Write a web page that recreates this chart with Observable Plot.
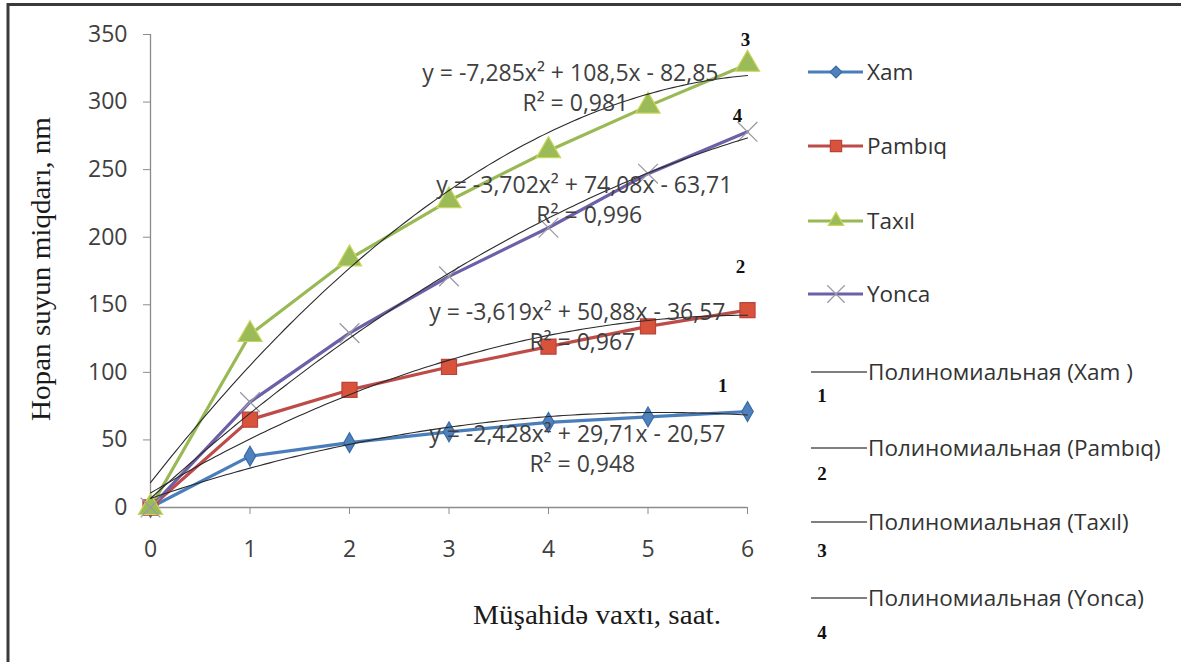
<!DOCTYPE html>
<html>
<head>
<meta charset="utf-8">
<script src="https://cdn.jsdelivr.net/npm/d3@7"></script>
<script src="https://cdn.jsdelivr.net/npm/@observablehq/plot@0.6"></script>
<style>
  html, body { margin: 0; padding: 0; background: #fff; }
  #chart { width: 1181px; height: 662px; }
</style>
</head>
<body>
<div id="chart"></div>
<script>
// ---- data ----
const hours = [0, 1, 2, 3, 4, 5, 6];
const xam    = [0, 38, 48, 56, 63, 67, 71];
const pambiq = [0, 65, 87, 104, 119, 134, 146];
const taxil  = [0, 128, 184, 227, 264, 297, 328];
const yonca  = [0, 78, 129, 171, 207, 247, 278];
const seriesNames = ["Xam", "Pambıq", "Taxıl", "Yonca"];
const seriesValues = [xam, pambiq, taxil, yonca];
// polynomial trendlines (Excel fit, x = point index 1..7)
const fitA = [-2.428, -3.619, -7.285, -3.702];
const fitB = [29.71, 50.88, 108.5, 74.08];
const fitC = [-20.57, -36.57, -82.85, -63.71];
const eqLabels = ["y = -2,428x² + 29,71x - 20,57", "y = -3,619x² + 50,88x - 36,57", "y = -7,285x² + 108,5x - 82,85", "y = -3,702x² + 74,08x - 63,71"];
const r2Labels = ["R² = 0,948", "R² = 0,967", "R² = 0,981", "R² = 0,996"];
const curveNumbers = ["1", "2", "3", "4"];
const trendNames = ["Полиномиальная (Xam )", "Полиномиальная (Pambıq)", "Полиномиальная (Taxıl)", "Полиномиальная (Yonca)"];
const yTicks = [0, 50, 100, 150, 200, 250, 300, 350];
const xTicks = [0, 1, 2, 3, 4, 5, 6];
const xTitle = "Müşahidə vaxtı, saat.";
const yTitle = "Hopan suyun miqdarı, nm";

// ---- styles ----
const lineColors = ["#4A7EBB", "#BE4B48", "#98B954", "#6D60A8"];
const markFill = ["#4F81BD", "#D9533A", "#9BBB59", "none"];
const markStroke = ["#3A6AA5", "#B8433F", "#C9D65A", "#9A9AA6"];
const symbols = ["diamond", "square", "triangle", "times"];
const markR = [6, 8.5, 9, 9];

const rows = [];
seriesNames.forEach((s, i) => hours.forEach((h, j) => rows.push({series: s, i, x: h, y: seriesValues[i][j]})));

const trend = [];
seriesNames.forEach((s, i) => {
  for (let k = 0; k <= 120; k++) {
    const t = k / 20;          // chart position 0..6
    const xi = t + 1;          // Excel index
    trend.push({series: s, x: t, y: fitA[i] * xi * xi + fitB[i] * xi + fitC[i]});
  }
});

const sans = "'Open Sans', 'Noto Sans', sans-serif";
const serif = "'Liberation Serif', 'DejaVu Serif', serif";

const marks = [
  Plot.ruleY([0], {x1: 0, x2: 6, stroke: "#8c8c8c", strokeWidth: 1.3}),
  Plot.ruleX([0], {y1: 0, y2: 350, stroke: "#8c8c8c", strokeWidth: 1.3}),
  Plot.axisY({ticks: yTicks, tickSize: 7, tickPadding: 16, stroke: "#8c8c8c", fill: "#404040", fontSize: 23, label: null, tickFormat: d => String(d)}),
  Plot.axisX({ticks: xTicks, tickSize: 7, tickPadding: 26, stroke: "#8c8c8c", fill: "#404040", fontSize: 23, label: null, tickFormat: d => String(d)}),
];
seriesNames.forEach((s, i) => {
  const d = rows.filter(r => r.i === i);
  marks.push(Plot.line(d, {x: "x", y: "y", stroke: lineColors[i], strokeWidth: 3.2}));
});
seriesNames.forEach((s, i) => {
  const d = rows.filter(r => r.i === i);
  marks.push(Plot.dot(d, {x: "x", y: "y", symbol: symbols[i], r: markR[i], fill: markFill[i], stroke: markStroke[i], strokeWidth: i === 3 ? 1.3 : 1.2}));
});
marks.push(Plot.line(trend, {x: "x", y: "y", z: "series", stroke: "#2a2a2a", strokeWidth: 1.1, curve: "linear"}));

// equation annotations (data coordinates)
const eqPos = [[4.29, 54, 32], [4.29, 144, 122], [4.22, 321, 299], [4.36, 238, 216]];
eqPos.forEach(([x, y1, y2], i) => {
  marks.push(Plot.text([eqLabels[i]], {x: () => x, y: () => y1, text: d => d, fontSize: 23, fill: "#404040", fontFamily: sans}));
  marks.push(Plot.text([r2Labels[i]], {x: () => x + 0.05, y: () => y2, text: d => d, fontSize: 23, fill: "#404040", fontFamily: sans}));
});
// curve numbers near end points
const numPos = [[5.75, 90], [5.93, 178], [5.98, 346], [5.9, 290]];
numPos.forEach(([x, y], i) => {
  marks.push(Plot.text([curveNumbers[i]], {x: () => x, y: () => y, text: d => d, fontSize: 19, fontWeight: "bold", fill: "#111", fontFamily: serif}));
});

const svg = Plot.plot({
  width: 1181,
  height: 662,
  marginLeft: 150,
  marginRight: 434,
  marginTop: 34,
  marginBottom: 155,
  x: {domain: [0, 6], axis: null},
  y: {domain: [0, 350], axis: null},
  style: {fontFamily: sans, background: "#fff", overflow: "visible"},
  marks
});

const g = d3.select(svg);
// outer frame (top and left edges only, as in the reference crop)
g.append("line").attr("x1", 7).attr("x2", 1181).attr("y1", 4.5).attr("y2", 4.5)
  .attr("stroke", "#3a3a3a").attr("stroke-width", 3);
g.append("line").attr("x1", 8).attr("x2", 8).attr("y1", 3).attr("y2", 662)
  .attr("stroke", "#3a3a3a").attr("stroke-width", 3);

// axis titles
g.append("text").attr("x", 597).attr("y", 624).attr("text-anchor", "middle")
  .attr("font-family", serif).attr("font-size", 27).attr("fill", "#1a1a1a")
  .attr("textLength", 248).attr("lengthAdjust", "spacingAndGlyphs").text(xTitle);
g.append("text").attr("transform", "translate(50,269) rotate(-90)").attr("text-anchor", "middle")
  .attr("font-family", serif).attr("font-size", 28).attr("fill", "#1a1a1a")
  .attr("textLength", 304).attr("lengthAdjust", "spacingAndGlyphs").text(yTitle);

// legend
const legY = [72, 146, 221, 294];
seriesNames.forEach((s, i) => {
  const y = legY[i];
  g.append("line").attr("x1", 808).attr("x2", 863).attr("y1", y).attr("y2", y)
    .attr("stroke", lineColors[i]).attr("stroke-width", 3.2);
  const sym = d3.symbol().type([d3.symbolDiamond2, d3.symbolSquare2, d3.symbolTriangle2, d3.symbolTimes][i]).size([90, 160, 170, 200][i]);
  g.append("path").attr("d", sym()).attr("transform", `translate(836,${y})`)
    .attr("fill", markFill[i]).attr("stroke", markStroke[i]).attr("stroke-width", 1.2);
  g.append("text").attr("x", 867).attr("y", y).attr("dy", "0.35em").attr("text-anchor", "start")
    .attr("font-family", sans).attr("font-size", 22.5).attr("fill", "#333").text(s);
});
const polY = [372, 448, 522, 598];
const polNumY = [395, 473, 550, 632];
trendNames.forEach((t, i) => {
  const y = polY[i];
  g.append("line").attr("x1", 811).attr("x2", 867).attr("y1", y).attr("y2", y)
    .attr("stroke", "#555").attr("stroke-width", 1.4);
  g.append("text").attr("x", 868).attr("y", y).attr("dy", "0.35em").attr("text-anchor", "start")
    .attr("font-family", sans).attr("font-size", 22.5).attr("fill", "#333").text(t);
  g.append("text").attr("x", 822).attr("y", polNumY[i]).attr("dy", "0.35em").attr("text-anchor", "middle")
    .attr("font-family", serif).attr("font-weight", "bold").attr("font-size", 19).attr("fill", "#111").text(curveNumbers[i]);
});

document.getElementById("chart").appendChild(svg);
</script>
</body>
</html>
